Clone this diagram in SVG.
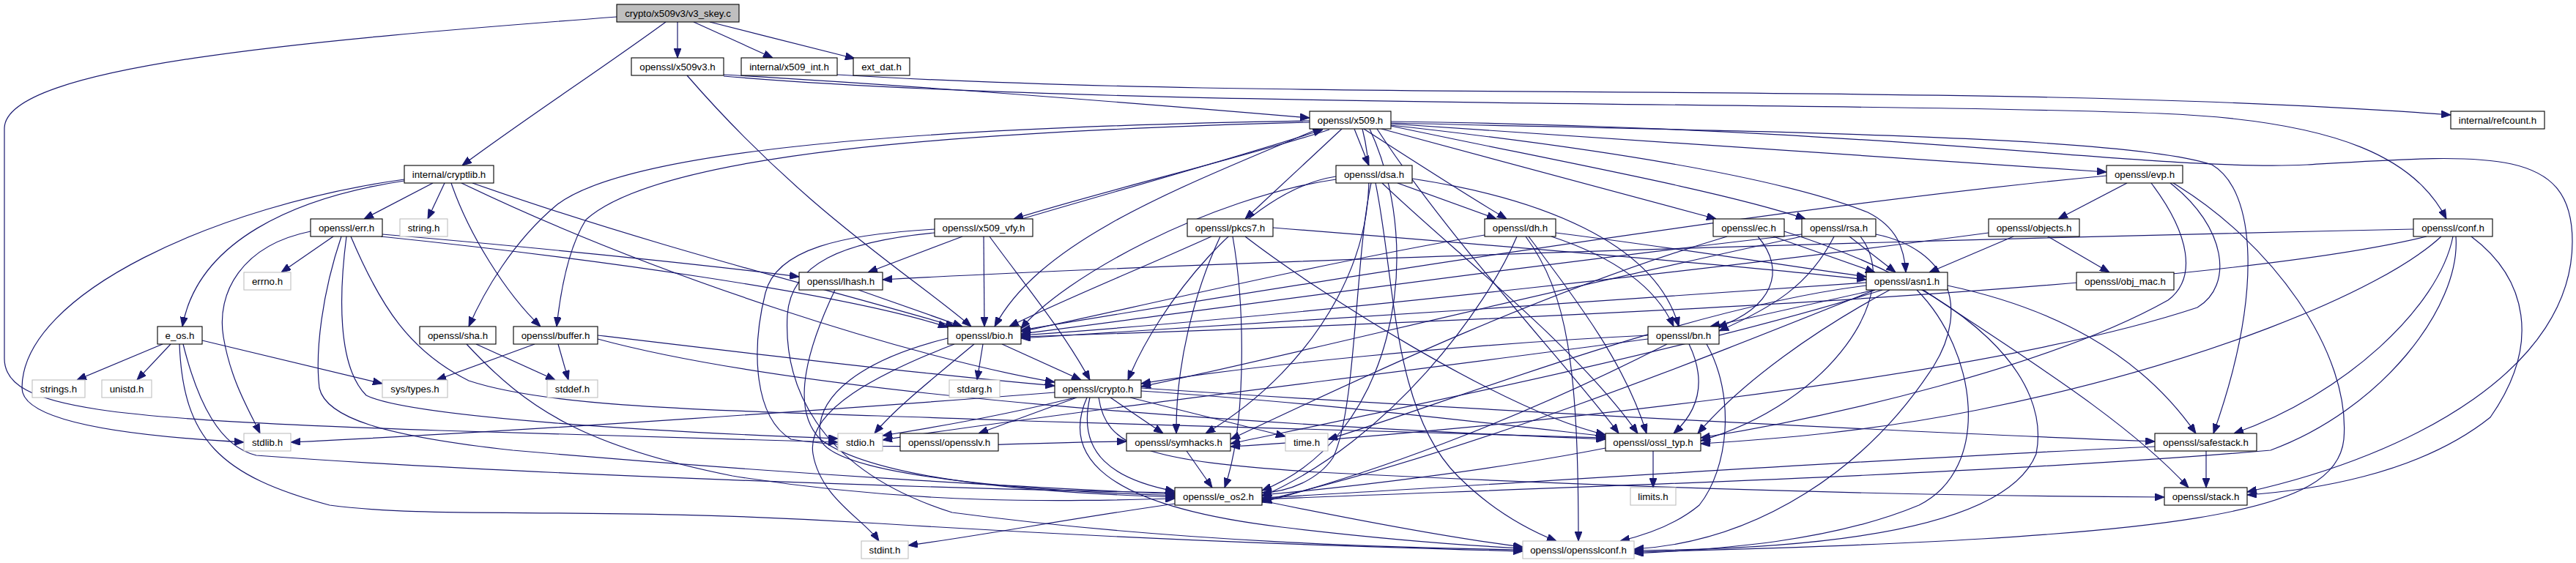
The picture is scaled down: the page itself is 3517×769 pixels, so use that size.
<svg xmlns="http://www.w3.org/2000/svg" width="3517" height="769" viewBox="0 0 3517 769">
<style>
rect{fill:#ffffff;stroke:#000000;stroke-width:1.1}
.g rect{stroke:#bfbfbf}
.root rect{fill:#bfbfbf}
text{font-family:"Liberation Sans",Arial,sans-serif;font-size:13.3px;fill:#000;text-anchor:middle}
#edges path{fill:none;stroke:#191970;stroke-width:1.2;marker-end:url(#a)}
</style>
<defs>
<marker id="a" viewBox="0 0 13 10" refX="13" refY="5" markerWidth="13" markerHeight="10" markerUnits="userSpaceOnUse" orient="auto"><path d="M0,0 L13,5 L0,10 z" fill="#191970" stroke="#191970" stroke-width="1"/></marker>
</defs>
<rect x="0" y="0" width="3517" height="769" style="fill:#fff;stroke:none"/>
<g id="edges">
<path d="M909,30 C820,95 720,160 631,226"/>
<path d="M925,30 L925,79"/>
<path d="M947,30 C985,47 1020,63 1055,79"/>
<path d="M969,30 C1035,47 1100,63 1167,80"/>
<path d="M842,23 C420,55 8,90 6,175 L6,490 C6,560 150,572 600,588 C900,598 1050,601 1144,604"/>
<path d="M938,103 C1100,290 1250,380 1326,446"/>
<path d="M988,102 C1300,120 1600,145 1788,161"/>
<path d="M988,104 C1500,148 2500,138 2950,155 C3200,165 3300,220 3340,299"/>
<path d="M1143,102 C1800,142 2700,108 3346,157"/>
<path d="M591,250 L497,299"/>
<path d="M607,250 L584,299"/>
<path d="M552,247 C400,270 270,330 249,446"/>
<path d="M552,245 C300,280 30,400 30,530 C30,580 200,597 333,604"/>
<path d="M616,250 C640,320 690,400 738,446"/>
<path d="M630,250 C900,380 1250,490 1440,522"/>
<path d="M645,250 C900,340 1150,400 1304,446"/>
<path d="M455,323 L384,372"/>
<path d="M424,316 C330,335 295,400 305,460 C315,520 340,560 355,592"/>
<path d="M466,323 C440,400 430,480 436,530 C445,570 520,595 700,615 C1100,650 1400,665 1604,675"/>
<path d="M473,323 C463,400 460,500 500,540 C560,570 900,590 1144,599"/>
<path d="M479,323 C520,420 560,480 640,520 C760,560 1000,560 1400,575 C1800,585 2000,592 2192,598"/>
<path d="M520,323 C800,352 1150,400 1294,447"/>
<path d="M522,320 C700,335 950,360 1091,378"/>
<path d="M1815,177 C1700,215 1500,262 1384,299"/>
<path d="M1395,299 C1520,262 1700,212 1806,177"/>
<path d="M1314,323 L1185,372"/>
<path d="M1343,323 L1344,446"/>
<path d="M1351,323 C1400,390 1450,450 1488,519"/>
<path d="M1276,313 C1150,320 1060,340 1045,400 C1025,480 1030,570 1080,600 C1200,620 1400,603 1538,603"/>
<path d="M1276,318 C1150,330 1080,360 1075,430 C1070,520 1110,640 1300,700 C1600,740 1900,748 2079,751"/>
<path d="M1849,176 L1869,226"/>
<path d="M1862,176 C1930,220 2000,265 2057,299"/>
<path d="M1886,176 L2343,299"/>
<path d="M1899,172 C2100,215 2350,260 2465,299"/>
<path d="M1899,169 C2300,195 2600,215 2876,235"/>
<path d="M1899,171 C2250,210 2450,250 2550,290 C2590,310 2600,340 2602,372"/>
<path d="M1899,168 C2400,180 2900,185 3020,225 C3080,260 3090,400 3022,592"/>
<path d="M1899,166 C2600,175 2950,235 3150,225 C3400,210 3512,200 3512,330 C3512,500 3300,620 3068,672"/>
<path d="M1832,176 L1700,299"/>
<path d="M1800,176 C1600,260 1420,330 1358,446"/>
<path d="M1788,167 C1300,180 900,210 800,300 C775,340 765,400 760,446"/>
<path d="M1788,165 C1200,175 850,210 760,280 C700,330 660,400 640,446"/>
<path d="M1860,176 C1900,330 1800,500 1646,592"/>
<path d="M1870,176 C1950,350 1900,600 1723,670"/>
<path d="M1880,176 C1980,330 2150,510 2210,592"/>
<path d="M1172,396 L1314,446"/>
<path d="M1140,396 C1100,480 1080,560 1120,600 C1200,660 1450,674 1604,679"/>
<path d="M1908,250 L2043,299"/>
<path d="M1824,245 C1650,270 1450,380 1394,449"/>
<path d="M1824,241 C1700,260 1580,420 1540,519"/>
<path d="M1872,250 C1850,350 1852,560 1820,625 C1800,655 1760,672 1723,673"/>
<path d="M1878,250 C1905,380 1900,560 1990,650 C2040,700 2090,725 2125,739"/>
<path d="M1887,250 C1980,340 2150,470 2236,592"/>
<path d="M1928,244 C2100,270 2260,330 2292,446"/>
<path d="M2027,321 C1800,360 1550,420 1394,453"/>
<path d="M2071,323 C2030,420 1900,600 1723,678"/>
<path d="M2083,323 C2140,400 2155,500 2155,739"/>
<path d="M2087,323 C2160,420 2220,500 2248,592"/>
<path d="M2124,318 C2300,340 2450,365 2548,378"/>
<path d="M2118,323 C2200,350 2260,390 2285,446"/>
<path d="M2421,323 L2560,372"/>
<path d="M2400,323 C2440,370 2420,420 2345,447"/>
<path d="M2358,323 C2100,400 1850,520 1680,600"/>
<path d="M2436,316 C2700,400 2800,520 2780,620 C2740,720 2500,750 2231,752"/>
<path d="M2525,323 L2588,372"/>
<path d="M2504,323 C2470,390 2420,420 2347,452"/>
<path d="M2460,320 C2100,360 1600,430 1394,456"/>
<path d="M2460,323 C2100,400 1700,500 1558,528"/>
<path d="M2540,323 C2600,400 2500,550 2322,602"/>
<path d="M2561,320 C2660,340 2690,420 2640,500 C2550,640 2400,740 2231,750"/>
<path d="M1738,311 C2100,340 2400,365 2548,382"/>
<path d="M1654,323 C1550,370 1450,410 1378,446"/>
<path d="M1666,323 C1630,400 1605,500 1606,592"/>
<path d="M1683,323 C1700,420 1702,580 1672,666"/>
<path d="M1700,323 C1800,400 2050,560 2192,594"/>
<path d="M2904,250 L2810,299"/>
<path d="M2876,240 C2400,285 1700,400 1394,451"/>
<path d="M2937,250 C2990,320 3000,380 2960,410 C2800,500 2500,570 2322,598"/>
<path d="M2963,250 C3040,310 3050,390 3000,420 C2700,520 2000,590 1680,610"/>
<path d="M2967,250 C3100,330 3210,480 3200,600 C3190,700 3000,735 2231,754"/>
<path d="M2796,323 L2880,372"/>
<path d="M2749,323 L2634,372"/>
<path d="M2715,318 C2400,360 1800,430 1394,458"/>
<path d="M3295,313 C2500,330 1600,360 1205,382"/>
<path d="M3313,323 C3000,400 2000,440 1394,460"/>
<path d="M3333,323 C3250,400 3000,500 2700,560 C2550,590 2420,600 2322,606"/>
<path d="M3349,323 C3330,420 3200,540 3050,592"/>
<path d="M3353,323 C3360,420 3250,560 3100,615 C2700,650 2000,670 1723,682"/>
<path d="M3374,323 C3450,380 3470,470 3400,570 C3300,650 3150,670 3068,676"/>
<path d="M2560,396 L2335,446"/>
<path d="M2548,390 C2300,420 1950,560 1813,600"/>
<path d="M2560,396 C2300,500 2000,620 1723,684"/>
<path d="M2548,386 C2200,410 1700,445 1394,462"/>
<path d="M2570,396 C2300,480 1900,560 1680,606"/>
<path d="M2580,396 C2480,450 2380,520 2318,592"/>
<path d="M2617,396 C2700,480 2720,640 2620,690 C2500,740 2350,750 2231,756"/>
<path d="M2626,396 C2750,480 2900,570 2988,666"/>
<path d="M2659,390 C2800,420 2920,480 2998,592"/>
<path d="M2306,470 C2330,520 2320,560 2285,592"/>
<path d="M2330,470 C2370,540 2360,640 2320,690 C2290,715 2250,730 2212,739"/>
<path d="M2276,470 C2100,560 1900,640 1723,686"/>
<path d="M2250,458 C2000,470 1700,500 1558,524"/>
<path d="M2250,463 C1900,510 1400,570 1205,601"/>
<path d="M1440,536 C1200,555 700,590 397,604"/>
<path d="M1468,543 C1400,560 1300,580 1205,595"/>
<path d="M1470,543 L1336,592"/>
<path d="M1516,543 L1588,592"/>
<path d="M1488,543 C1470,620 1520,655 1604,671"/>
<path d="M1484,543 C1450,620 1500,690 1750,720 C1900,738 2000,745 2079,749"/>
<path d="M1543,543 L1755,596"/>
<path d="M1558,534 C1800,550 2050,580 2192,596"/>
<path d="M1558,530 C2000,560 2600,590 2942,603"/>
<path d="M1500,543 C1510,610 1560,630 1800,645 C2300,670 2700,678 2955,679"/>
<path d="M1620,616 L1655,666"/>
<path d="M1723,684 C1850,710 1980,735 2079,747"/>
<path d="M1604,688 C1450,710 1350,730 1240,745"/>
<path d="M2257,616 L2257,666"/>
<path d="M2192,612 C2050,640 1850,665 1723,676"/>
<path d="M3012,616 L3012,666"/>
<path d="M2942,610 C2500,630 2000,665 1723,680"/>
<path d="M1342,470 L1334,519"/>
<path d="M1368,470 L1476,519"/>
<path d="M1330,470 C1270,520 1220,560 1194,592"/>
<path d="M1294,462 C1180,490 1110,540 1120,600 C1140,650 1400,670 1604,677"/>
<path d="M1303,470 C1200,510 1100,560 1110,620 C1120,680 1180,710 1200,739"/>
<path d="M762,470 L776,519"/>
<path d="M730,470 L596,519"/>
<path d="M816,458 C1000,480 1250,510 1440,527"/>
<path d="M816,463 C1100,540 1700,580 2192,600"/>
<path d="M650,470 L758,519"/>
<path d="M637,470 C720,560 800,610 1000,650 C1250,690 1450,685 1604,681"/>
<path d="M222,470 L105,519"/>
<path d="M233,470 L187,519"/>
<path d="M276,465 L522,524"/>
<path d="M250,470 C270,550 300,610 350,622 C700,648 1300,668 1604,673"/>
<path d="M245,470 C250,600 300,650 450,690 C600,710 800,690 1200,715 C1600,740 1900,748 2079,753"/>
</g>
<g id="n_v3_skey" class="root"><rect x="842" y="6" width="167" height="24"/><text x="925.5" y="23">crypto/x509v3/v3_skey.c</text></g>
<g id="n_x509v3"><rect x="862" y="79" width="126" height="24"/><text x="925" y="96">openssl/x509v3.h</text></g>
<g id="n_x509_int"><rect x="1012" y="79" width="131" height="24"/><text x="1077.5" y="96">internal/x509_int.h</text></g>
<g id="n_ext_dat"><rect x="1165" y="79" width="77" height="24"/><text x="1203.5" y="96">ext_dat.h</text></g>
<g id="n_x509"><rect x="1788" y="152" width="111" height="24"/><text x="1843.5" y="169">openssl/x509.h</text></g>
<g id="n_refcount"><rect x="3346" y="152" width="128" height="24"/><text x="3410" y="169">internal/refcount.h</text></g>
<g id="n_cryptlib"><rect x="552" y="226" width="122" height="24"/><text x="613" y="243">internal/cryptlib.h</text></g>
<g id="n_dsa"><rect x="1824" y="226" width="104" height="24"/><text x="1876" y="243">openssl/dsa.h</text></g>
<g id="n_evp"><rect x="2876" y="226" width="104" height="24"/><text x="2928" y="243">openssl/evp.h</text></g>
<g id="n_err"><rect x="424" y="299" width="98" height="24"/><text x="473" y="316">openssl/err.h</text></g>
<g id="n_string" class="g"><rect x="546" y="299" width="65" height="24"/><text x="578.5" y="316">string.h</text></g>
<g id="n_x509_vfy"><rect x="1276" y="299" width="134" height="24"/><text x="1343" y="316">openssl/x509_vfy.h</text></g>
<g id="n_pkcs7"><rect x="1621" y="299" width="117" height="24"/><text x="1679.5" y="316">openssl/pkcs7.h</text></g>
<g id="n_dh"><rect x="2027" y="299" width="97" height="24"/><text x="2075.5" y="316">openssl/dh.h</text></g>
<g id="n_ec"><rect x="2339" y="299" width="97" height="24"/><text x="2387.5" y="316">openssl/ec.h</text></g>
<g id="n_rsa"><rect x="2460" y="299" width="101" height="24"/><text x="2510.5" y="316">openssl/rsa.h</text></g>
<g id="n_objects"><rect x="2715" y="299" width="124" height="24"/><text x="2777" y="316">openssl/objects.h</text></g>
<g id="n_conf"><rect x="3295" y="299" width="108" height="24"/><text x="3349" y="316">openssl/conf.h</text></g>
<g id="n_errno" class="g"><rect x="333" y="372" width="64" height="24"/><text x="365" y="389">errno.h</text></g>
<g id="n_lhash"><rect x="1091" y="372" width="114" height="24"/><text x="1148" y="389">openssl/lhash.h</text></g>
<g id="n_asn1"><rect x="2548" y="372" width="111" height="24"/><text x="2603.5" y="389">openssl/asn1.h</text></g>
<g id="n_obj_mac"><rect x="2835" y="372" width="133" height="24"/><text x="2901.5" y="389">openssl/obj_mac.h</text></g>
<g id="n_e_os"><rect x="215" y="446" width="61" height="24"/><text x="245.5" y="463">e_os.h</text></g>
<g id="n_sha"><rect x="573" y="446" width="104" height="24"/><text x="625" y="463">openssl/sha.h</text></g>
<g id="n_buffer"><rect x="701" y="446" width="115" height="24"/><text x="758.5" y="463">openssl/buffer.h</text></g>
<g id="n_bio"><rect x="1294" y="446" width="100" height="24"/><text x="1344" y="463">openssl/bio.h</text></g>
<g id="n_bn"><rect x="2250" y="446" width="97" height="24"/><text x="2298.5" y="463">openssl/bn.h</text></g>
<g id="n_strings" class="g"><rect x="44" y="519" width="72" height="24"/><text x="80" y="536">strings.h</text></g>
<g id="n_unistd" class="g"><rect x="139" y="519" width="68" height="24"/><text x="173" y="536">unistd.h</text></g>
<g id="n_systypes" class="g"><rect x="522" y="519" width="89" height="24"/><text x="566.5" y="536">sys/types.h</text></g>
<g id="n_stddef" class="g"><rect x="747" y="519" width="69" height="24"/><text x="781.5" y="536">stddef.h</text></g>
<g id="n_stdarg" class="g"><rect x="1296" y="519" width="69" height="24"/><text x="1330.5" y="536">stdarg.h</text></g>
<g id="n_crypto"><rect x="1440" y="519" width="118" height="24"/><text x="1499" y="536">openssl/crypto.h</text></g>
<g id="n_stdlib" class="g"><rect x="333" y="592" width="64" height="24"/><text x="365" y="609">stdlib.h</text></g>
<g id="n_stdio" class="g"><rect x="1144" y="592" width="61" height="24"/><text x="1174.5" y="609">stdio.h</text></g>
<g id="n_opensslv"><rect x="1229" y="592" width="134" height="24"/><text x="1296" y="609">openssl/opensslv.h</text></g>
<g id="n_symhacks"><rect x="1538" y="592" width="142" height="24"/><text x="1609" y="609">openssl/symhacks.h</text></g>
<g id="n_time" class="g"><rect x="1755" y="592" width="58" height="24"/><text x="1784" y="609">time.h</text></g>
<g id="n_ossl_typ"><rect x="2192" y="592" width="130" height="24"/><text x="2257" y="609">openssl/ossl_typ.h</text></g>
<g id="n_safestack"><rect x="2942" y="592" width="139" height="24"/><text x="3011.5" y="609">openssl/safestack.h</text></g>
<g id="n_e_os2"><rect x="1604" y="666" width="119" height="24"/><text x="1663.5" y="683">openssl/e_os2.h</text></g>
<g id="n_limits" class="g"><rect x="2226" y="666" width="62" height="24"/><text x="2257" y="683">limits.h</text></g>
<g id="n_stack"><rect x="2955" y="666" width="113" height="24"/><text x="3011.5" y="683">openssl/stack.h</text></g>
<g id="n_stdint" class="g"><rect x="1176" y="739" width="64" height="24"/><text x="1208" y="756">stdint.h</text></g>
<g id="n_opensslconf" class="g"><rect x="2079" y="739" width="152" height="24"/><text x="2155" y="756">openssl/opensslconf.h</text></g>
</svg>
